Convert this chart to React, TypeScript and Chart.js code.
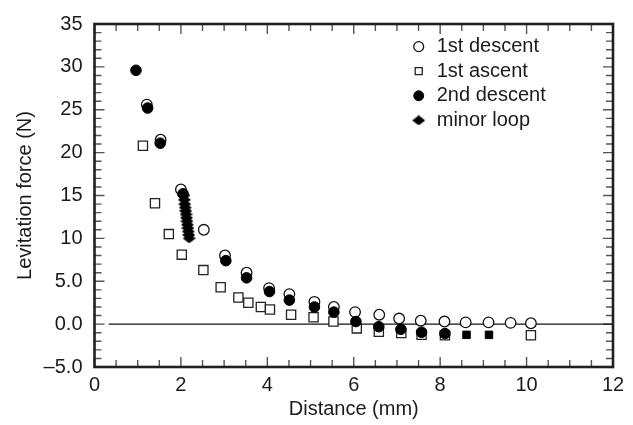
import React, { useEffect, useRef } from 'react';
import { Chart, registerables } from 'chart.js';

Chart.register(...registerables);

// ---- data ----
const descent1X = [1.21, 1.53, 2.0, 2.53, 3.02, 3.52, 4.04, 4.51, 5.09, 5.54, 6.03, 6.59, 7.05, 7.55, 8.1, 8.59, 9.12, 9.63, 10.1];
const descent1Y = [25.6, 21.5, 15.7, 11.0, 8.0, 6.0, 4.2, 3.5, 2.6, 2.0, 1.4, 1.1, 0.65, 0.4, 0.3, 0.2, 0.2, 0.15, 0.1];

const ascent1X = [1.12, 1.4, 1.72, 2.02, 2.52, 2.92, 3.33, 3.56, 3.85, 4.06, 4.55, 5.07, 5.53, 6.07, 6.58, 7.1, 7.57, 8.11, 10.1];
const ascent1Y = [20.8, 14.1, 10.5, 8.1, 6.3, 4.3, 3.1, 2.5, 2.0, 1.7, 1.1, 0.8, 0.3, -0.5, -0.9, -1.05, -1.25, -1.3, -1.3];

const descent2X = [0.96, 1.23, 1.52, 2.05, 3.04, 3.52, 4.05, 4.51, 5.09, 5.54, 6.05, 6.58, 7.09, 7.57, 8.11, 8.61, 9.13];
const descent2Y = [29.6, 25.2, 21.1, 15.2, 7.4, 5.4, 3.8, 2.8, 2.0, 1.4, 0.3, -0.3, -0.6, -0.95, -1.1, -1.25, -1.25];
const descent2Shape = ['circle', 'circle', 'circle', 'circle', 'circle', 'circle', 'circle', 'circle', 'circle', 'circle', 'circle', 'circle', 'circle', 'circle', 'circle', 'rect', 'rect'];

const loopX = [2.07, 2.08, 2.09, 2.1, 2.11, 2.12, 2.13, 2.14, 2.15, 2.16, 2.17, 2.18, 2.19];
const loopY = [15.0, 14.5, 14.0, 13.6, 13.2, 12.8, 12.4, 12.0, 11.6, 11.2, 10.8, 10.4, 10.0];

const zeroLineX = [0.33, 12];
const zeroLineY = [0, 0];

const seriesNames = ['1st descent', '1st ascent', '2nd descent', 'minor loop'];

const xTickValues = [0, 2, 4, 6, 8, 10, 12];
const xTickLabels = ['0', '2', '4', '6', '8', '10', '12'];
const yTickValues = [-5, 0, 5, 10, 15, 20, 25, 30, 35];
const yTickLabels = ['\u20135.0', '0.0', '5.0', '10', '15', '20', '25', '30', '35'];

const xTitle = 'Distance (mm)';
const yTitle = 'Levitation force (N)';

const pts = (xs: number[], ys: number[]) => xs.map((x, i) => ({ x, y: ys[i] }));

const FONT = "'Liberation Sans', Arial, Helvetica, sans-serif";
const INK = '#1c1a1a';
const FS = 20;

function makeDiamond(w: number, h: number): HTMLCanvasElement {
  const c = document.createElement('canvas');
  c.width = w;
  c.height = h;
  const g = c.getContext('2d')!;
  g.fillStyle = '#000';
  g.beginPath();
  g.moveTo(w / 2, 0);
  g.lineTo(w, h / 2);
  g.lineTo(w / 2, h);
  g.lineTo(0, h / 2);
  g.closePath();
  g.fill();
  return c;
}

const frameTicks = {
  id: 'frameTicks',
  beforeDatasetsDraw(chart: any) {
    const { ctx, chartArea: a, scales } = chart;
    const x = scales.x;
    const y = scales.y;
    ctx.save();
    ctx.strokeStyle = '#555';
    ctx.lineWidth = 1.4;
    ctx.beginPath();
    for (let k = 0; k <= 24; k++) {
      const v = k * 0.5;
      const px = x.getPixelForValue(v);
      const len = k % 4 === 0 ? 10 : 7;
      ctx.moveTo(px, a.bottom);
      ctx.lineTo(px, a.bottom - len);
      ctx.moveTo(px, a.top);
      ctx.lineTo(px, a.top + len);
    }
    for (let v = -5; v <= 35; v++) {
      const py = y.getPixelForValue(v);
      const len = v % 5 === 0 ? 10 : 7;
      ctx.moveTo(a.left, py);
      ctx.lineTo(a.left + len, py);
      ctx.moveTo(a.right, py);
      ctx.lineTo(a.right - len, py);
    }
    ctx.stroke();
    ctx.restore();
  },
  afterDatasetsDraw(chart: any) {
    const { ctx, chartArea: a } = chart;
    ctx.save();
    ctx.strokeStyle = '#231f20';
    ctx.lineWidth = 2.6;
    ctx.strokeRect(a.left, a.top, a.right - a.left, a.bottom - a.top);
    ctx.restore();
  },
};

const legendPlace = {
  id: 'legendPlace',
  afterLayout(chart: any) {
    const lg = chart.legend;
    if (!lg) return;
    const a = chart.chartArea;
    const left = a.left + (a.right - a.left) * 0.601;
    const top = a.top + 8;
    const w = lg.width;
    const h = lg.height;
    lg.left = left;
    lg.right = left + w;
    lg.top = top;
    lg.bottom = top + h;
  },
};

export default function App() {
  const ref = useRef<HTMLCanvasElement | null>(null);

  useEffect(() => {
    if (!ref.current) return;
    const diamond = makeDiamond(13, 10);
    const chart = new Chart(ref.current, {
      type: 'scatter',
      data: {
        datasets: [
          {
            label: seriesNames[0],
            data: pts(descent1X, descent1Y),
            pointStyle: 'circle',
            pointRadius: 5.3,
            backgroundColor: '#ffffff',
            borderColor: '#111111',
            borderWidth: 1.3,
            order: 4,
          },
          {
            label: seriesNames[1],
            data: pts(ascent1X, ascent1Y),
            pointStyle: 'rect',
            pointRadius: 6.5,
            backgroundColor: '#ffffff',
            borderColor: '#222222',
            borderWidth: 1.3,
            order: 3,
          },
          {
            label: seriesNames[2],
            data: pts(descent2X, descent2Y),
            pointStyle: descent2Shape as any,
            pointRadius: 5.3,
            backgroundColor: '#000000',
            borderColor: '#000000',
            borderWidth: 1,
            order: 2,
          },
          {
            label: seriesNames[3],
            data: pts(loopX, loopY),
            pointStyle: diamond as any,
            pointRadius: 6,
            backgroundColor: '#000000',
            borderColor: '#000000',
            borderWidth: 1,
            order: 1,
          },
          {
            label: 'zero',
            type: 'line',
            data: pts(zeroLineX, zeroLineY),
            borderColor: '#111111',
            borderWidth: 1.4,
            pointRadius: 0,
            showLine: true,
            order: 10,
          } as any,
        ],
      },
      options: {
        responsive: false,
        animation: false,
        events: [],
        layout: { padding: { left: 0, right: 20, top: 17, bottom: 0 } },
        plugins: {
          tooltip: { enabled: false },
          legend: {
            position: 'chartArea' as any,
            align: 'start',
            labels: {
              usePointStyle: true,
              boxWidth: 16,
              boxHeight: 7,
              padding: 4.6,
              color: INK,
              font: { family: FONT, size: FS },
              filter: (item: any) => item.text !== 'zero',
              sort: (a: any, b: any) => a.datasetIndex - b.datasetIndex,
            },
          },
        },
        scales: {
          x: {
            type: 'linear',
            min: 0,
            max: 12,
            grid: { display: false, drawTicks: false },
            border: { display: false },
            afterBuildTicks: (s: any) => {
              s.ticks = xTickValues.map((v) => ({ value: v }));
            },
            afterFit: (s: any) => {
              s.height = 58;
            },
            ticks: {
              padding: 6,
              maxRotation: 0,
              color: INK,
              font: { family: FONT, size: FS },
              callback: (v: any) => xTickLabels[xTickValues.indexOf(Number(v))],
            },
            title: {
              display: true,
              text: xTitle,
              color: INK,
              font: { family: FONT, size: FS },
              padding: { top: 0, bottom: 4 },
            },
          },
          y: {
            type: 'linear',
            min: -5,
            max: 35,
            grid: { display: false, drawTicks: false },
            border: { display: false },
            afterBuildTicks: (s: any) => {
              s.ticks = yTickValues.map((v) => ({ value: v }));
            },
            afterFit: (s: any) => {
              s.width = 94.5;
            },
            ticks: {
              padding: 12,
              color: INK,
              font: { family: FONT, size: FS },
              callback: (v: any) => yTickLabels[yTickValues.indexOf(Number(v))],
            },
            title: {
              display: true,
              text: yTitle,
              color: INK,
              font: { family: FONT, size: FS },
              padding: { top: 13, bottom: 0 },
            },
          },
        },
      },
      plugins: [frameTicks, legendPlace],
    });
    return () => chart.destroy();
  }, []);

  return (
    <div style={{ position: 'fixed', left: 0, top: 0, width: 633, height: 425, background: '#fff' }}>
      <canvas ref={ref} width={633} height={425} style={{ display: 'block', width: 633, height: 425 }} />
    </div>
  );
}
